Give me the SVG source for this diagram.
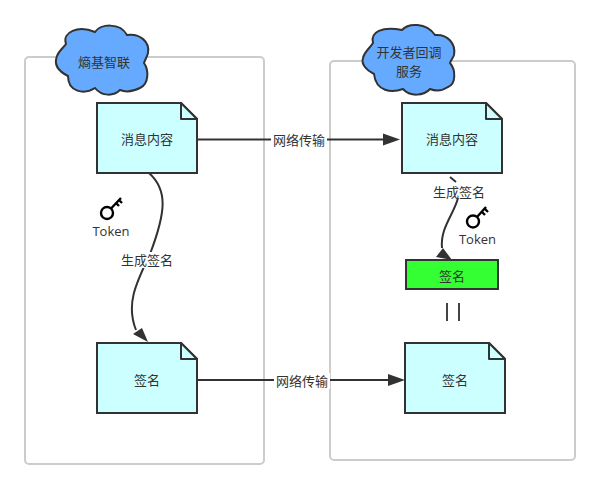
<svg xmlns="http://www.w3.org/2000/svg" width="599" height="489" viewBox="0 0 599 489">
<style>
text{font-family:"Noto Sans CJK SC","Liberation Sans",sans-serif;font-size:13px;fill:#333;text-anchor:middle}
.lane{fill:#fff;stroke:#ccc;stroke-width:2}
.doc{fill:#ccffff;stroke:#323232;stroke-width:2}
.fold{fill:#ccffff;stroke:#323232;stroke-width:2;stroke-linejoin:round}
.cloud{fill:#66aaff;stroke:#323232;stroke-width:2}
.c{fill:none;stroke:#323232;stroke-width:2}
.ah{fill:#323232;stroke:none}
.key{fill:none;stroke:#000;stroke-width:2.4}
.lbl{fill:#fff;stroke:none}
.tk{font-family:"Open Sans","Liberation Sans",sans-serif}
</style>
<rect width="599" height="489" fill="#fff"/>
<g id="lane-left"><rect class="lane" x="25" y="57" width="239" height="407" rx="4"/></g>
<g id="lane-right"><rect class="lane" x="330" y="61" width="245" height="399" rx="4"/></g>
<g id="cloud-left">
<path class="cloud" d="M66 44C62 32 78 25 95 32C100 24 120 22 127 35C140 33 150 42 148 53C147 57 145 60 144 63C149 70 149 84 140 88C132 92 125 92 120 90C114 96 102 97 95 88C84 95 68 92 68 76C60 72 53 66 57 56C59 51 63 48 66 44Z"/>
<text x="104" y="67">熵基智联</text>
</g>
<g id="cloud-right">
<path class="cloud" d="M373 43C370 32 382 26 402 30C408 23 426 22 435 35C448 34 456 44 454 55C453 58 451 60 450 63C456 70 456 84 448 87C442 91 435 91 430 89C424 96 410 97 403 89C392 93 376 92 374 74C366 70 361 64 363 58C364 52 370 48 373 43Z"/>
<text x="409" y="57">开发者回调</text>
<text x="409" y="76">服务</text>
</g>
<g id="connectors">
<path class="c" d="M198 139.500H384"/><path class="ah" d="M400 139.500L383 133.500V145.500Z"/>
<path class="c" d="M198 380H388"/><path class="ah" d="M405 380L388 374V386Z"/>
<path class="c" d="M149 173C168 190 166 212 150 254C135 285 126 305 136 330"/><path class="ah" d="M148 342L133 334L142 328Z"/>
<path class="c" d="M450 177L456 182M458 198C454 214 440 228 442 248"/><path class="ah" d="M452 260L436 257L443 248Z"/>
<rect class="lbl" x="271" y="132" width="56" height="16"/><text x="299" y="145">网络传输</text>
<rect class="lbl" x="274" y="373" width="56" height="16"/><text x="302" y="385.500">网络传输</text>
<rect class="lbl" x="119" y="252" width="56" height="16"/><text x="147" y="265">生成签名</text>
<text x="459" y="197">生成签名</text>
</g>
<g id="doc-msg-left"><path class="doc" d="M97 103H181L197 119V173H97Z"/><path class="fold" d="M181 103V119H197Z"/><text x="147" y="143.500">消息内容</text></g>
<g id="doc-msg-right"><path class="doc" d="M402 103H486L502 119V173H402Z"/><path class="fold" d="M486 103V119H502Z"/><text x="452" y="143.500">消息内容</text></g>
<g id="doc-sign-left"><path class="doc" d="M97 343H181L197 359V413H97Z"/><path class="fold" d="M181 343V359H197Z"/><text x="147" y="384.500">签名</text></g>
<g id="doc-sign-right"><path class="doc" d="M405 343H489L505 359V413H405Z"/><path class="fold" d="M489 343V359H505Z"/><text x="455" y="384.500">签名</text></g>
<g id="sign-green"><rect x="406" y="260" width="92" height="29" fill="#33ff33" stroke="#323232" stroke-width="2"/><text x="452" y="281">签名</text></g>
<g id="equals"><path d="M447 303V321M459 303V321" fill="none" stroke="#444" stroke-width="2"/></g>
<g id="key-left"><circle class="key" cx="107" cy="213" r="6"/><path class="key" d="M111 208.500L121 198M116 203L119 206M119 200L122 203"/><text class="tk" x="111" y="236">Token</text></g>
<g id="key-right"><circle class="key" cx="473" cy="221.500" r="6"/><path class="key" d="M477 217L486 207M482 212L485 215M485 209L488 212"/><text class="tk" x="477.500" y="244">Token</text></g>
</svg>
